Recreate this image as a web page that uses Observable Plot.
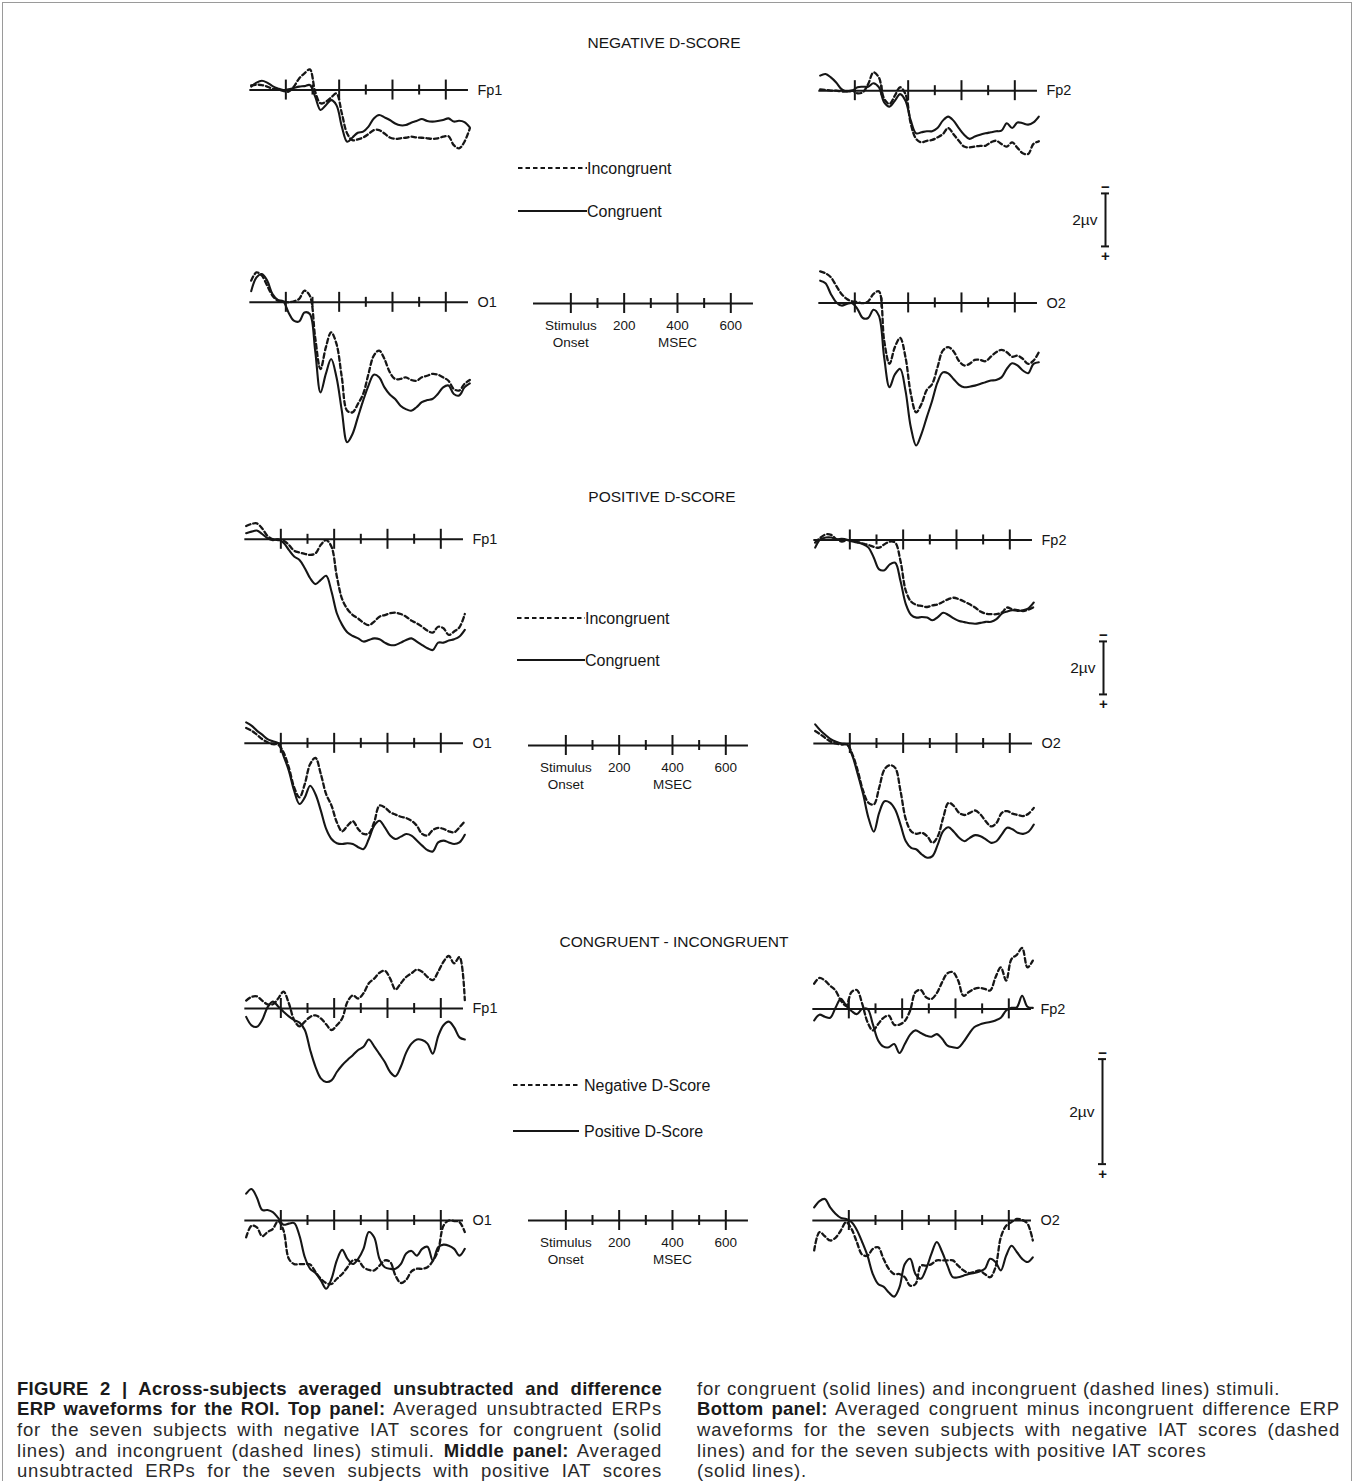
<!DOCTYPE html>
<html><head><meta charset="utf-8">
<script src="https://cdn.jsdelivr.net/npm/d3@7"></script>
<script src="https://cdn.jsdelivr.net/npm/@observablehq/plot@0.6"></script>
<style>
html,body{margin:0;padding:0;background:#fff;}
#page{position:relative;width:1356px;height:1481px;overflow:hidden;background:#fff;font-family:"Liberation Sans",Arial,Helvetica,sans-serif;color:#161616;}
#frame{position:absolute;left:2px;top:2px;width:1350px;height:1500px;border:1px solid #9a9a9a;box-sizing:border-box;}
.title{position:absolute;transform:translate(-50%,-50%);font-size:15.5px;white-space:nowrap;}
.cap{position:absolute;white-space:nowrap;font-family:"Liberation Sans",Arial,sans-serif;font-size:18.5px;letter-spacing:0.8px;color:#2a2a2a;transform-origin:0 50%;}
.cap b{font-weight:bold;letter-spacing:0.3px;color:#1a1a1a;}
</style></head>
<body><div id="page"><div id="frame"></div></div>
<script>
// ---------- DATA (µV; positive values plotted downward, ERP convention) ----------
const TIMES = [-130,-110,-90,-70,-50,-30,-10,10,30,50,70,90,110,130,150,170,190,210,230,250,270,290,310,330,350,370,390,410,430,450,470,490,510,530,550,570,590,610,630,650,670,690];
const MAJOR_TICKS = [0,200,400,600];
const MINOR_TICKS = [100,300,500];
const SCALE_LABELS = [{t:0,text:"Stimulus\nOnset"},{t:200,text:"200"},{t:400,text:"400\nMSEC"},{t:600,text:"600"}];
const ELECTRODES = ["Fp1","Fp2","O1","O2"];
const SECTION_TITLES = ["NEGATIVE D-SCORE","POSITIVE D-SCORE","CONGRUENT - INCONGRUENT"];
const LEGEND_TOP = ["Incongruent","Congruent"];
const LEGEND_BOTTOM = ["Negative D-Score","Positive D-Score"];
const VOLT_LABEL = "2µv";
const VOLT_SPAN = 2;

// Negative D-score: congruent (solid) / incongruent (dashed)
const NEG_FP1_CONG = [-0.13,-0.28,-0.35,-0.28,-0.15,-0.06,0,-0.03,-0.08,-0.13,-0.15,-0.19,0.25,0.75,0.57,0.38,0.57,1.38,1.95,1.79,1.61,1.57,1.38,1.07,0.94,1.03,1.13,1.26,1.33,1.32,1.23,1.17,1.09,1.17,1.19,1.17,1.13,1.07,1.19,1.16,1.21,1.41];
const NEG_FP1_INCONG = [-0.18,-0.20,-0.19,-0.13,-0.05,-0.03,0.03,0.06,-0.13,-0.44,-0.63,-0.78,0.06,0.50,0.44,0.28,0.13,0.88,1.64,1.89,1.86,1.79,1.66,1.51,1.51,1.64,1.79,1.84,1.82,1.80,1.76,1.79,1.80,1.82,1.84,1.82,1.76,1.74,2.08,2.20,1.95,1.45];
const NEG_FP2_CONG = [-0.57,-0.63,-0.50,-0.31,-0.06,0.03,0,-0.13,-0.15,-0.15,-0.28,-0.13,0.44,0.60,0.38,0.13,0.38,1.13,1.61,1.57,1.53,1.53,1.41,1.13,0.98,1.13,1.41,1.66,1.82,1.73,1.66,1.61,1.57,1.53,1.51,1.23,1.41,1.20,1.23,1.28,1.20,0.98];
const NEG_FP2_INCONG = [-0.05,-0.03,0,0,0.03,0.03,0,0.10,0.06,-0.25,-0.69,-0.50,0.31,0.50,0.19,-0.13,0.13,1.26,1.82,1.95,1.89,1.86,1.76,1.64,1.41,1.64,1.89,2.11,2.14,2.11,2.08,2.08,1.95,1.89,2.01,2.11,1.95,2.16,2.36,2.39,2.01,1.91];
const NEG_O1_CONG = [-0.42,-0.94,-1.07,-0.82,-0.31,-0.09,-0.04,0.38,0.69,0.72,0.38,0.44,1.82,3.40,2.70,2.14,2.83,4.09,5.28,4.97,4.34,3.71,3.14,2.73,2.83,3.21,3.48,3.65,3.90,4.03,4.09,3.96,3.77,3.69,3.65,3.46,3.21,3.14,3.46,3.52,3.21,3.06];
const NEG_O1_INCONG = [-0.82,-1.13,-1.01,-0.63,-0.25,-0.06,-0.03,0,-0.04,-0.13,-0.44,-0.25,1.32,2.52,1.70,1.13,1.57,2.83,4.09,4.15,3.84,3.46,2.70,2.01,1.82,2.14,2.64,2.89,2.89,2.83,2.93,2.96,2.83,2.77,2.70,2.73,2.83,2.96,3.27,3.33,3.08,2.93];
const NEG_O2_CONG = [-0.84,-0.74,-0.34,-0.03,0.10,0.04,0.01,0.23,0.57,0.57,0.26,0.48,2.05,3.18,2.70,2.49,3.31,4.69,5.38,4.94,4.31,3.69,3.00,2.62,2.66,2.87,3.08,3.18,3.16,3.12,3.06,2.99,2.93,2.91,2.81,2.49,2.28,2.36,2.55,2.65,2.30,2.24];
const NEG_O2_INCONG = [-1.19,-1.12,-0.97,-0.65,-0.34,-0.15,-0.06,-0.03,0.01,-0.06,-0.34,-0.44,1.42,2.30,1.67,1.32,2.05,3.43,4.13,3.81,3.28,3.06,2.43,1.80,1.67,1.82,2.18,2.36,2.30,2.15,2.15,2.20,2.03,1.86,1.77,1.86,2.03,1.99,2.11,2.30,2.18,1.86];

// Positive D-score
const POS_FP1_CONG = [-0.23,-0.29,-0.33,-0.20,-0.04,0.03,0,0.13,0.40,0.65,0.78,1.09,1.47,1.69,1.53,1.38,1.97,2.79,3.23,3.52,3.65,3.74,3.86,3.80,3.74,3.77,3.90,3.99,3.99,3.90,3.80,3.74,3.86,3.99,4.11,4.18,3.90,3.90,3.82,3.77,3.67,3.42];
const POS_FP1_INCONG = [-0.50,-0.58,-0.60,-0.41,-0.13,0,0.03,0.05,0.21,0.43,0.50,0.55,0.59,0.53,0.21,0.03,0.28,1.40,2.26,2.64,2.86,2.99,3.15,3.24,3.11,2.92,2.86,2.79,2.77,2.82,2.92,3.07,3.17,3.30,3.45,3.52,3.30,3.36,3.61,3.48,3.32,2.82];
const POS_FP2_CONG = [0.29,-0.03,-0.09,-0.09,-0.03,-0.04,-0.01,0.06,0.10,0.16,0.29,0.67,1.11,1.14,0.92,0.86,1.55,2.42,2.83,2.93,2.91,2.93,3.03,2.91,2.75,2.83,2.96,3.06,3.10,3.14,3.16,3.13,3.09,3.09,2.99,2.78,2.70,2.65,2.68,2.65,2.58,2.36];
const POS_FP2_INCONG = [0.10,-0.09,-0.21,-0.19,-0.03,0.06,0.01,0.04,0.08,0.14,0.19,0.26,0.29,0.16,0.06,0.10,0.79,1.92,2.33,2.45,2.49,2.53,2.47,2.43,2.33,2.23,2.18,2.24,2.33,2.43,2.55,2.70,2.78,2.80,2.80,2.74,2.55,2.62,2.65,2.68,2.63,2.53];
const POS_O1_CONG = [-0.79,-0.67,-0.48,-0.33,-0.16,-0.08,-0.01,0.47,1.03,1.79,2.29,2.04,1.60,1.92,2.54,3.23,3.61,3.77,3.80,3.77,3.80,3.92,3.99,3.61,3.11,2.92,3.17,3.48,3.61,3.52,3.42,3.48,3.67,3.86,4.03,4.08,3.74,3.67,3.74,3.80,3.74,3.45];
const POS_O1_INCONG = [-0.58,-0.48,-0.33,-0.16,-0.04,0.03,0.05,0.34,0.91,1.66,2.04,1.53,0.78,0.55,1.16,1.92,2.35,2.98,3.32,3.11,2.94,3.23,3.42,3.40,2.98,2.35,2.42,2.60,2.69,2.77,2.82,2.92,3.11,3.42,3.48,3.27,3.19,3.23,3.32,3.36,3.17,2.94];
const POS_O2_CONG = [-0.72,-0.49,-0.31,-0.15,-0.06,0.01,0.04,0.48,1.17,1.92,2.81,3.33,2.62,2.18,2.23,2.49,3.06,3.69,3.94,4.00,4.19,4.31,4.25,3.81,3.31,3.16,3.33,3.56,3.69,3.56,3.46,3.50,3.62,3.75,3.69,3.43,3.18,3.24,3.37,3.41,3.33,3.06];
const POS_O2_INCONG = [-0.47,-0.34,-0.19,-0.06,0.01,0.04,0.04,0.42,1.04,1.79,2.24,2.30,1.67,0.98,0.82,0.92,1.79,2.86,3.31,3.41,3.37,3.50,3.75,3.50,2.81,2.24,2.36,2.62,2.70,2.62,2.53,2.68,2.94,3.13,3.00,2.62,2.55,2.65,2.70,2.74,2.65,2.43];

// Congruent - incongruent difference: positive D-score (solid) / negative D-score (dashed)
const DIFF_FP1_POS = [0.16,0.32,0.35,0.22,-0.02,-0.13,-0.04,0.06,0.15,0.22,0.27,0.41,0.79,1.11,1.33,1.40,1.37,1.21,1.08,0.98,0.89,0.79,0.73,0.59,0.72,0.87,1.02,1.21,1.29,1.11,0.84,0.67,0.59,0.60,0.67,0.86,0.53,0.32,0.25,0.36,0.55,0.59];
const DIFF_FP1_NEG = [-0.15,-0.22,-0.23,-0.15,-0.08,-0.08,-0.19,-0.32,-0.10,0.22,0.34,0.25,0.16,0.13,0.19,0.30,0.41,0.32,0.19,-0.13,-0.25,-0.19,-0.29,-0.48,-0.57,-0.68,-0.72,-0.57,-0.36,-0.48,-0.60,-0.67,-0.74,-0.70,-0.60,-0.54,-0.70,-0.89,-1.00,-0.86,-0.98,-0.16];
const DIFF_FP2_POS = [0.22,0.11,0.15,0.17,-0.02,-0.19,-0.06,0.04,0.10,0,0,0.29,0.60,0.72,0.73,0.67,0.84,0.67,0.49,0.41,0.46,0.51,0.53,0.48,0.57,0.70,0.73,0.74,0.63,0.48,0.35,0.30,0.27,0.25,0.22,0.17,0.03,-0.02,-0.03,-0.25,-0.04,-0.02];
const DIFF_FP2_NEG = [-0.48,-0.59,-0.54,-0.44,-0.35,-0.16,-0.06,-0.32,-0.36,-0.10,0.25,0.41,0.29,0.17,0.13,0.30,0.30,0.23,0.03,-0.32,-0.36,-0.22,-0.19,-0.30,-0.51,-0.68,-0.70,-0.54,-0.25,-0.32,-0.38,-0.40,-0.38,-0.35,-0.60,-0.79,-0.54,-0.95,-1.03,-1.16,-0.79,-0.92];
const DIFF_O1_POS = [-0.51,-0.60,-0.44,-0.20,-0.20,-0.16,-0.05,0.08,0.06,0.05,0.29,0.70,0.92,1.00,1.14,1.30,1.11,0.76,0.56,0.73,0.83,0.73,0.54,0.22,0.32,0.73,0.89,0.92,0.92,0.83,0.63,0.58,0.67,0.54,0.50,0.76,0.51,0.46,0.48,0.54,0.67,0.54];
const DIFF_O1_NEG = [0.32,0.10,0.13,0.30,0.22,0.16,0.01,0.19,0.73,0.83,0.83,0.83,0.84,0.98,1.11,1.19,1.21,1.11,1.02,0.89,0.76,0.76,0.89,0.94,0.95,0.86,0.76,0.79,1.05,1.19,1.13,0.97,0.92,0.92,0.89,0.77,0.57,0.10,0,0.01,0.03,0.22];
const DIFF_O2_POS = [-0.25,-0.37,-0.41,-0.25,-0.13,-0.05,-0.03,0.03,0.18,0.41,0.67,1.02,1.21,1.26,1.37,1.45,1.27,0.83,0.73,1.02,1.11,0.92,0.63,0.41,0.60,0.86,1.08,1.08,1.05,1.02,1.00,0.97,0.92,0.73,0.79,0.95,0.67,0.48,0.60,0.73,0.79,0.70];
const DIFF_O2_NEG = [0.57,0.22,0.30,0.38,0.33,0.19,0.03,0.16,0.41,0.65,0.67,0.54,0.51,0.73,0.92,1.02,1.02,1.08,1.24,1.21,0.86,0.86,0.83,0.76,0.76,0.76,0.76,0.86,0.95,1.00,0.98,0.95,1.02,1.08,0.89,0.32,0.10,0.03,-0.03,-0.01,0.06,0.38];

const CAPTION_LEFT = [
  [["b","FIGURE 2 | Across-subjects averaged unsubtracted and difference"]],
  [["b","ERP waveforms for the ROI. Top panel:"],["r"," Averaged unsubtracted ERPs"]],
  [["r","for the seven subjects with negative IAT scores for congruent (solid"]],
  [["r","lines) and incongruent (dashed lines) stimuli. "],["b","Middle panel:"],["r"," Averaged"]],
  [["r","unsubtracted ERPs for the seven subjects with positive IAT scores"]]
];
const CAPTION_RIGHT = [
  [["r","for congruent (solid lines) and incongruent (dashed lines) stimuli."]],
  [["b","Bottom panel:"],["r"," Averaged congruent minus incongruent difference ERP"]],
  [["r","waveforms for the seven subjects with negative IAT scores (dashed"]],
  [["r","lines) and for the seven subjects with positive IAT scores"]],
  [["r","(solid lines)."]]
];
const CAPTION_RIGHT_JUSTIFY = [false,true,true,false,false];

// ---------- LAYOUT ----------
const INK = "#161616";
const PX_PER_MS = 53.33/200;
const X_DOMAIN = [-140, 695];
const AXIS_START = -135, AXIS_END = 685;
const SCALE_START = -140, SCALE_END = 685;
const MAJOR_PX = 10, MINOR_PX = 5;
const page = document.getElementById("page");

const SECTIONS = [
  {title: SECTION_TITLES[0], titleX: 664, titleY: 43, pxPerUV: 26.5,
   left: {ox: 285, fpY: 90, oY: 302}, right: {ox: 854, fpY: 90, oY: 302},
   series: [[NEG_FP1_CONG,NEG_FP1_INCONG],[NEG_FP2_CONG,NEG_FP2_INCONG],[NEG_O1_CONG,NEG_O1_INCONG],[NEG_O2_CONG,NEG_O2_INCONG]],
   legend: LEGEND_TOP, legX1: 518, legX2: 587, legY: [168, 211], scaleX: 570, scaleY: 303,
   barX: 1105, barTop: 193},
  {title: SECTION_TITLES[1], titleX: 662, titleY: 497, pxPerUV: 26.5,
   left: {ox: 280.7, fpY: 539, oY: 743}, right: {ox: 849.3, fpY: 539, oY: 742.5},
   series: [[POS_FP1_CONG,POS_FP1_INCONG],[POS_FP2_CONG,POS_FP2_INCONG],[POS_O1_CONG,POS_O1_INCONG],[POS_O2_CONG,POS_O2_INCONG]],
   legend: LEGEND_TOP, legX1: 517, legX2: 585, legY: [618, 660], scaleX: 565, scaleY: 745,
   barX: 1103, barTop: 641},
  {title: SECTION_TITLES[2], titleX: 674, titleY: 942, pxPerUV: 52.5,
   left: {ox: 280, fpY: 1008, oY: 1220}, right: {ox: 848.3, fpY: 1008, oY: 1220},
   series: [[DIFF_FP1_POS,DIFF_FP1_NEG],[DIFF_FP2_POS,DIFF_FP2_NEG],[DIFF_O1_POS,DIFF_O1_NEG],[DIFF_O2_POS,DIFF_O2_NEG]],
   legend: LEGEND_BOTTOM, legX1: 513, legX2: 579, legY: [1085, 1131], scaleX: 565, scaleY: 1220,
   barX: 1102, barTop: 1059, legendGap: 5}
];

function place(svg, left, top) {
  svg.style.position = "absolute";
  svg.style.left = left + "px";
  svg.style.top = top + "px";
  svg.style.maxWidth = "none";
  page.appendChild(svg);
}

const STYLE = {background: "transparent", overflow: "visible", fontFamily: "'Liberation Sans', Arial, sans-serif", color: INK};

function panel(ox, oy, label, solid, dashed, pxPerUV) {
  const all = solid.concat(dashed);
  const ymin = Math.min(0, d3.min(all)) - 0.6, ymax = Math.max(0, d3.max(all)) + 0.6;
  const mL = 4, mR = 46, mT = 6, mB = 6;
  const innerW = (X_DOMAIN[1] - X_DOMAIN[0]) * PX_PER_MS;
  const innerH = (ymax - ymin) * pxPerUV;
  const rows = arr => TIMES.map((t, i) => ({t, v: arr[i]}));
  const maj = MAJOR_PX / pxPerUV, mnr = MINOR_PX / pxPerUV;
  const svg = Plot.plot({
    width: mL + innerW + mR, height: mT + innerH + mB,
    marginLeft: mL, marginRight: mR, marginTop: mT, marginBottom: mB,
    x: {domain: X_DOMAIN, axis: null},
    y: {domain: [ymin, ymax], reverse: true, axis: null},
    style: STYLE,
    marks: [
      Plot.ruleY([0], {x1: AXIS_START, x2: AXIS_END, stroke: INK, strokeWidth: 2}),
      Plot.ruleX(MAJOR_TICKS, {x: d => d, y1: -maj, y2: maj, stroke: INK, strokeWidth: 2}),
      Plot.ruleX(MINOR_TICKS, {x: d => d, y1: -mnr, y2: mnr, stroke: INK, strokeWidth: 2}),
      Plot.line(rows(dashed), {x: "t", y: "v", curve: "catmull-rom", stroke: INK, strokeWidth: 2.3, strokeDasharray: "4.5,3"}),
      Plot.line(rows(solid), {x: "t", y: "v", curve: "catmull-rom", stroke: INK, strokeWidth: 2.1, strokeLinejoin: "round"}),
      Plot.text([label], {x: AXIS_END, y: 0, text: d => d, dx: 9, textAnchor: "start", fontSize: 14.5, fill: INK})
    ]
  });
  place(svg, ox - mL - (0 - X_DOMAIN[0]) * PX_PER_MS, oy - mT - (0 - ymin) * pxPerUV);
}

function scaleBar(ox, oy) {
  const mL = 4, mR = 4, mT = 4, mB = 4, half = 40;
  const innerW = (X_DOMAIN[1] - X_DOMAIN[0]) * PX_PER_MS;
  const svg = Plot.plot({
    width: mL + innerW + mR, height: mT + 2 * half + mB,
    marginLeft: mL, marginRight: mR, marginTop: mT, marginBottom: mB,
    x: {domain: X_DOMAIN, axis: null},
    y: {domain: [-half, half], reverse: true, axis: null},
    style: STYLE,
    marks: [
      Plot.ruleY([0], {x1: SCALE_START, x2: SCALE_END, stroke: INK, strokeWidth: 2}),
      Plot.ruleX(MAJOR_TICKS, {x: d => d, y1: -MAJOR_PX, y2: MAJOR_PX, stroke: INK, strokeWidth: 2}),
      Plot.ruleX(MINOR_TICKS, {x: d => d, y1: -MINOR_PX, y2: MINOR_PX, stroke: INK, strokeWidth: 2}),
      Plot.text(SCALE_LABELS, {x: "t", y: 0, text: "text", dy: 14, lineAnchor: "top", lineHeight: 1.28, fontSize: 13.5, fill: INK})
    ]
  });
  place(svg, ox - mL - (0 - X_DOMAIN[0]) * PX_PER_MS, oy - mT - half);
}

function voltBar(bx, capTop, pxPerUV) {
  const mL = 60, mR = 10, mT = 4, mB = 4, pad = 0.45;
  const ymin = -pad, ymax = VOLT_SPAN + pad;
  const svg = Plot.plot({
    width: mL + 20 + mR, height: mT + (ymax - ymin) * pxPerUV + mB,
    marginLeft: mL, marginRight: mR, marginTop: mT, marginBottom: mB,
    x: {domain: [-10, 10], axis: null},
    y: {domain: [ymin, ymax], reverse: true, axis: null},
    style: STYLE,
    marks: [
      Plot.ruleX([0], {y1: 0, y2: VOLT_SPAN, stroke: INK, strokeWidth: 2}),
      Plot.ruleY([0, VOLT_SPAN], {x1: -4, x2: 4, stroke: INK, strokeWidth: 2}),
      Plot.text(["−"], {x: 0, y: 0, text: d => d, dy: -6, fontSize: 15, fontWeight: "bold", fill: INK}),
      Plot.text(["+"], {x: 0, y: VOLT_SPAN, text: d => d, dy: 10, fontSize: 15, fontWeight: "bold", fill: INK}),
      Plot.text([VOLT_LABEL], {x: 0, y: VOLT_SPAN / 2, text: d => d, dx: -8, textAnchor: "end", fontSize: 15.5, fill: INK})
    ]
  });
  place(svg, bx - mL - 10, capTop - mT - pad * pxPerUV);
}

function legend(x1, x2, ys, labels, gap) {
  const svg = d3.create("svg").attr("width", 260).attr("height", ys[1] - ys[0] + 30)
    .style("position", "absolute").style("left", (x1 - 5) + "px").style("top", (ys[0] - 15) + "px").style("overflow", "visible");
  const g = svg.append("g").attr("transform", "translate(5,15)");
  ys.forEach((y, i) => {
    const yy = y - ys[0];
    g.append("line").attr("x1", 0).attr("x2", x2 - x1).attr("y1", yy).attr("y2", yy)
      .attr("stroke", INK).attr("stroke-width", 2).attr("stroke-dasharray", i === 0 ? "4.5,3" : null);
    g.append("text").attr("x", x2 - x1 + (gap || 0)).attr("y", yy).attr("dy", "0.36em")
      .attr("font-size", 16).attr("fill", INK).attr("font-family", "'Liberation Sans', Arial, sans-serif").text(labels[i]);
  });
  page.appendChild(svg.node());
}

SECTIONS.forEach(s => {
  const t = document.createElement("div");
  t.className = "title"; t.textContent = s.title;
  t.style.left = s.titleX + "px"; t.style.top = s.titleY + "px";
  page.appendChild(t);
  const pos = [[s.left.ox, s.left.fpY], [s.right.ox, s.right.fpY], [s.left.ox, s.left.oY], [s.right.ox, s.right.oY]];
  ELECTRODES.forEach((e, i) => panel(pos[i][0], pos[i][1], e, s.series[i][0], s.series[i][1], s.pxPerUV));
  legend(s.legX1, s.legX2, s.legY, s.legend, s.legendGap);
  scaleBar(s.scaleX, s.scaleY);
  voltBar(s.barX, s.barTop, s.pxPerUV);
});

// ---------- CAPTION (justified lines) ----------
function captionColumn(lines, x, width, y0, lh, justifyFlags) {
  lines.forEach((parts, i) => {
    const div = document.createElement("div");
    div.className = "cap";
    div.style.left = x + "px";
    div.style.lineHeight = lh + "px";
    div.style.top = (y0 + i * lh - lh / 2) + "px";
    const span = document.createElement("span");
    parts.forEach(([kind, txt]) => {
      const el = document.createElement(kind === "b" ? "b" : "span");
      el.textContent = txt;
      span.appendChild(el);
    });
    div.appendChild(span);
    page.appendChild(div);
    const natural = span.getBoundingClientRect().width;
    const fullText = parts.map(p => p[1]).join("");
    const spaces = (fullText.match(/ /g) || []).length;
    if (natural > width) {
      div.style.transform = `scaleX(${width / natural})`;
    } else if (justifyFlags[i] && spaces > 0) {
      div.style.wordSpacing = ((width - natural) / spaces) + "px";
    }
  });
}
captionColumn(CAPTION_LEFT, 17, 645, 1389, 20.6, CAPTION_LEFT.map(() => true));
captionColumn(CAPTION_RIGHT, 697, 643, 1389, 20.6, CAPTION_RIGHT_JUSTIFY);
</script>
</body></html>
